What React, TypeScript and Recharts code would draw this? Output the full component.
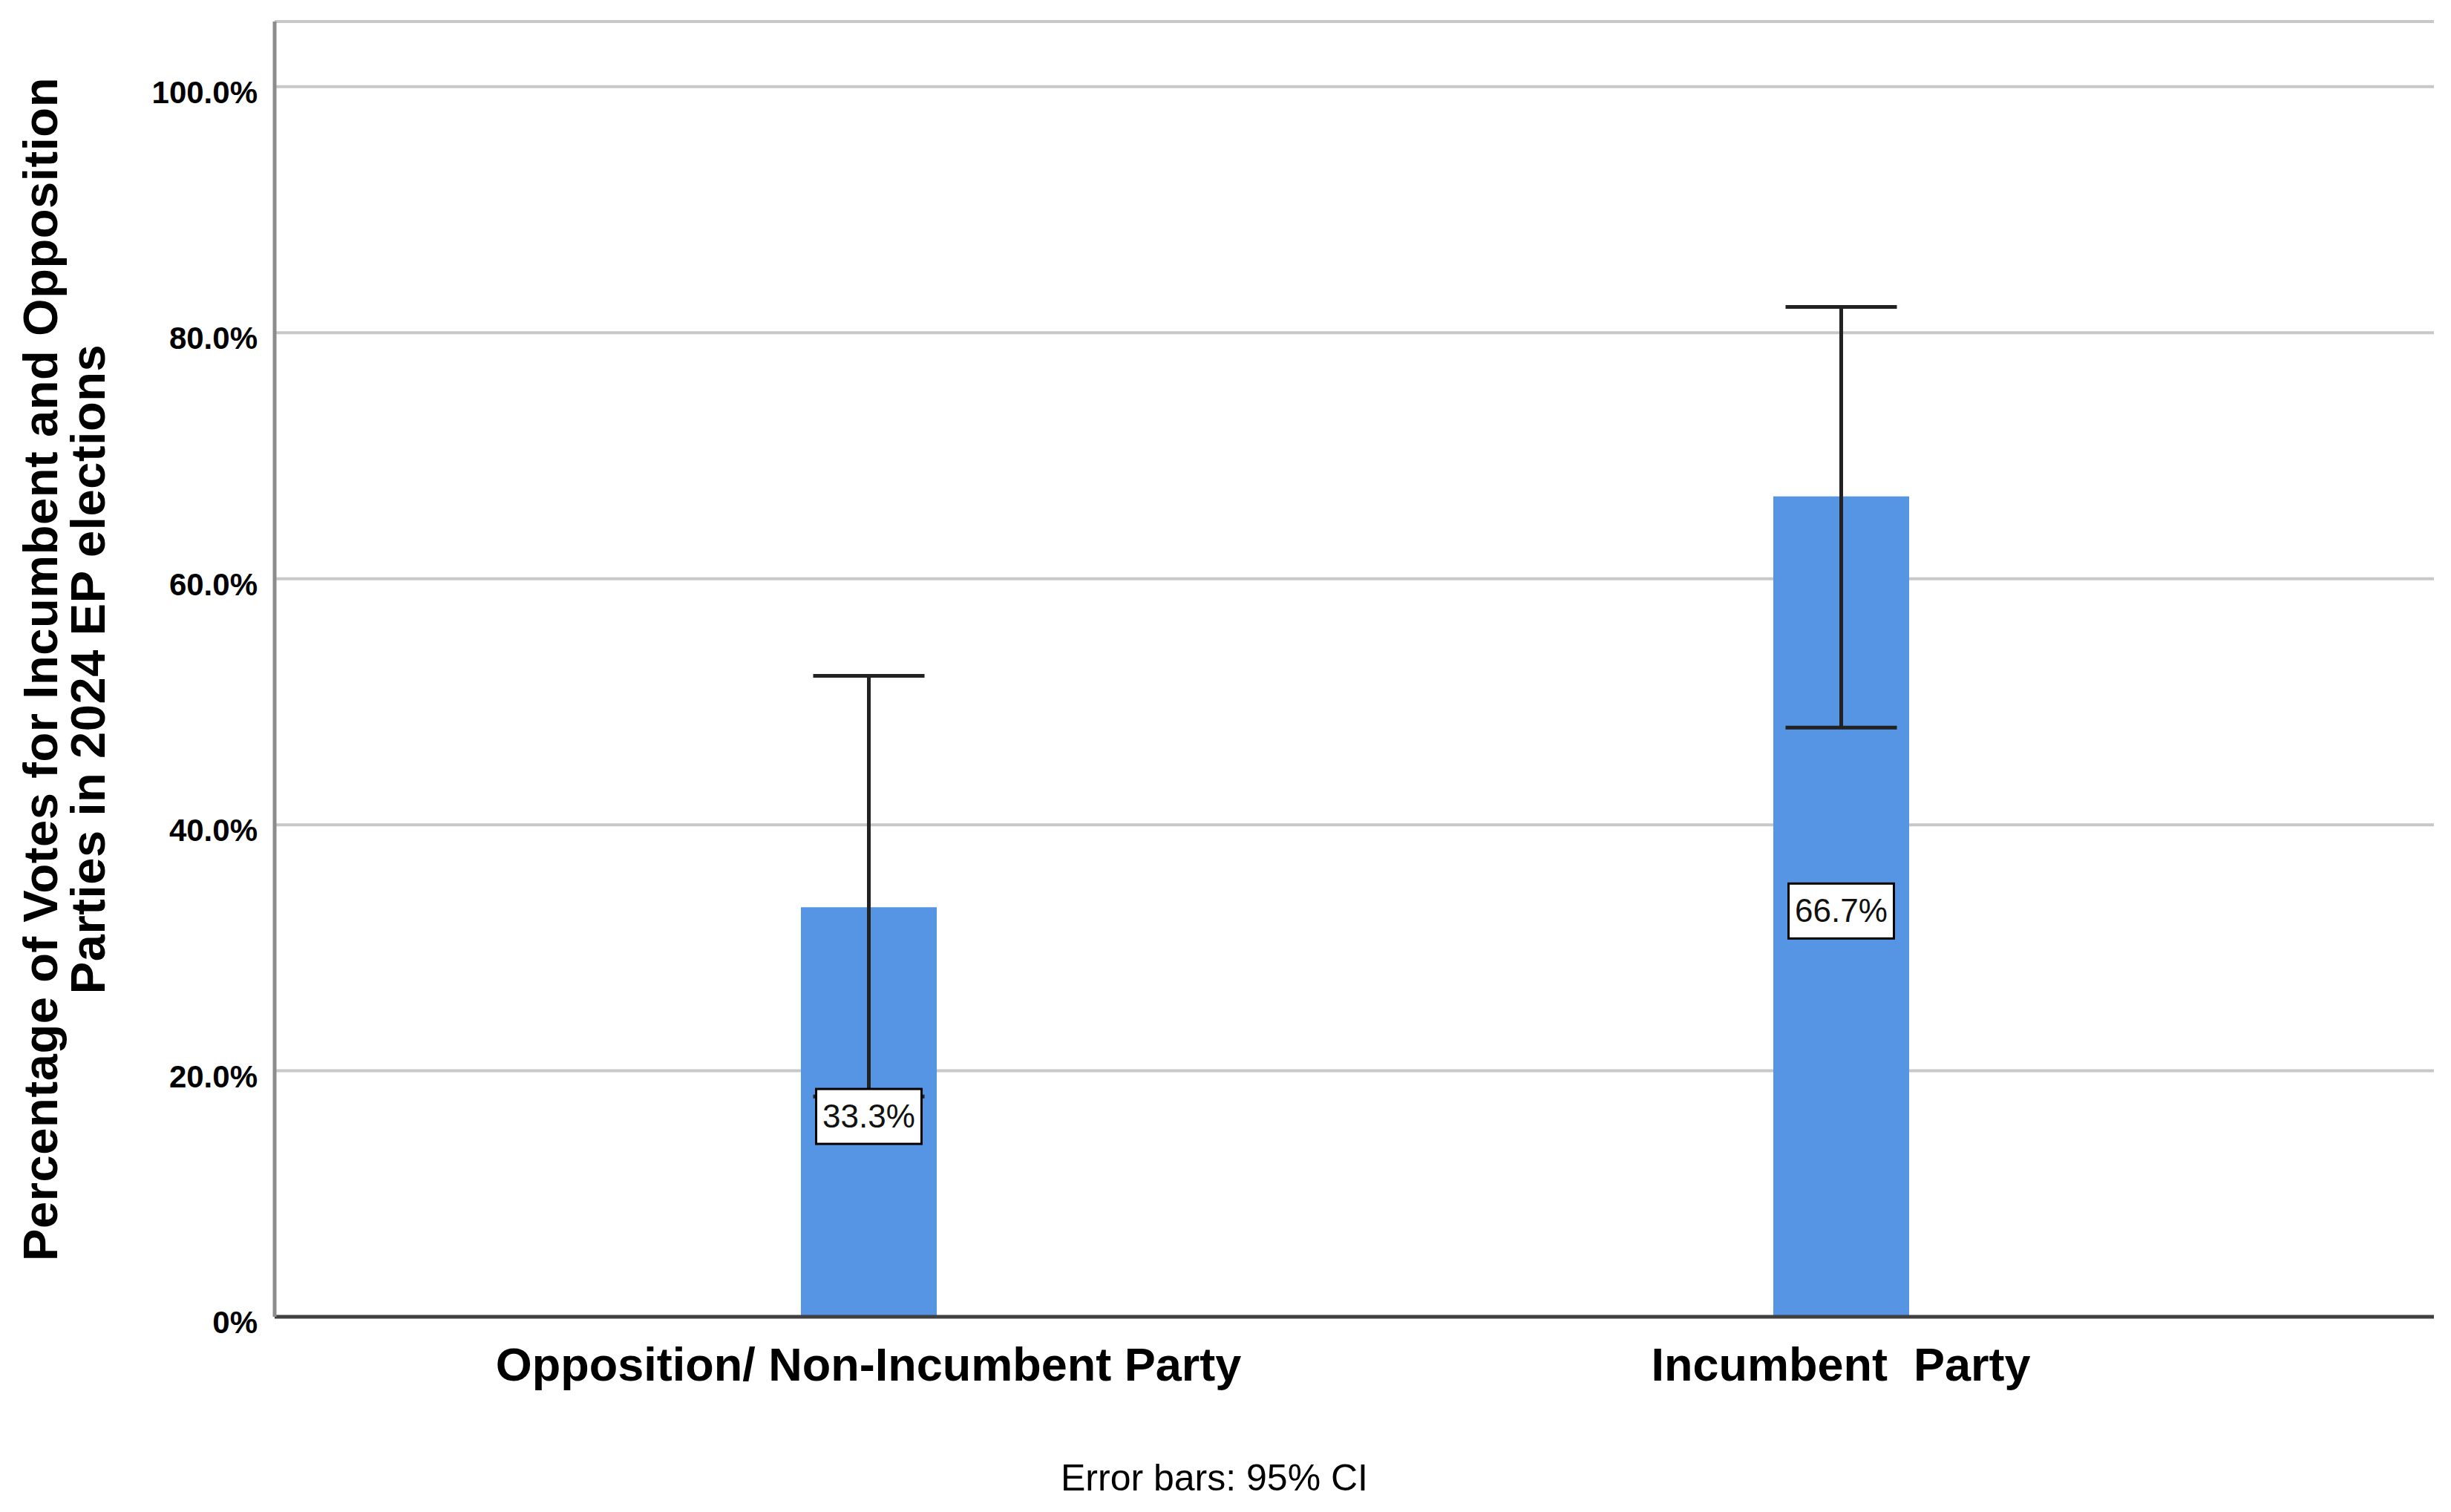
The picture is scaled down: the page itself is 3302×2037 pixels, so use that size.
import React from "react";
import { BarChart, Bar, XAxis, YAxis, CartesianGrid, ErrorBar, LabelList, Label } from "recharts";

const categories = ["Opposition/ Non-Incumbent Party", "Incumbent  Party"];
const percentValues = [33.3, 66.7];
const ciLower = [17.9, 47.9];
const ciUpper = [52.1, 82.1];
const yTicks = [0, 20, 40, 60, 80, 100];
const yTitleLines = ["Percentage of Votes for Incumbent and Opposition", "Parties in 2024 EP elections"];
const caption = "Error bars: 95% CI";

const data = categories.map((name, i) => ({
  name,
  value: percentValues[i],
  err: [percentValues[i] - ciLower[i], ciUpper[i] - percentValues[i]],
}));

const FONT = "'Liberation Sans', Arial, Helvetica, sans-serif";
const W = 3302;
const H = 2037;

const fmtY = (v: number) => (v === 0 ? "0%" : `${v.toFixed(1)}%`);

const YTick = (props: any) => {
  const { x, y, payload } = props;
  return (
    <text x={x} y={y + 22} textAnchor="end" fontFamily={FONT} fontWeight="bold" fontSize={42} fill="#000">
      {fmtY(payload.value)}
    </text>
  );
};

const XTick = (props: any) => {
  const { x, y, payload } = props;
  return (
    <text x={x} y={y + 86} textAnchor="middle" fontFamily={FONT} fontWeight="bold" fontSize={63} fill="#000" style={{ whiteSpace: "pre" }}>
      {payload.value}
    </text>
  );
};

const YTitle = (props: any) => {
  const vb = props.viewBox || {};
  const cy = vb.y + vb.height / 2;
  const xs = [77, 141];
  return (
    <g>
      {yTitleLines.map((line, i) => (
        <text
          key={i}
          x={xs[i]}
          y={cy}
          transform={`rotate(-90, ${xs[i]}, ${cy})`}
          textAnchor="middle"
          fontFamily={FONT}
          fontWeight="bold"
          fontSize={65}
          letterSpacing={0.6}
          fill="#000"
        >
          {line}
        </text>
      ))}
    </g>
  );
};

const Caption = () => (
  <text x={1636} y={2008} textAnchor="middle" fontFamily={FONT} fontSize={50} fill="#000">
    {caption}
  </text>
);

const ValueBox = (props: any) => {
  const { x, y, width, height, value } = props;
  const cx = x + width / 2;
  const cy = y + height / 2 + 6;
  const bw = 142;
  const bh = 74;
  return (
    <g>
      <rect x={cx - bw / 2} y={cy - bh / 2} width={bw} height={bh} fill="#fff" stroke="#000" strokeWidth={3} />
      <text x={cx} y={cy + 15} textAnchor="middle" fontFamily={FONT} fontSize={44} fill="#111">
        {`${value}%`}
      </text>
    </g>
  );
};

export default function App() {
  return (
    <div style={{ position: "absolute", left: 0, top: 0, width: W, height: H, background: "#fff" }}>
      <BarChart width={W} height={H} data={data} margin={{ top: 29, right: 23, left: 0, bottom: 0 }}>
        <CartesianGrid horizontal vertical={false} stroke="#c8c8c8" strokeWidth={4} />
        <XAxis
          dataKey="name"
          height={263}
          padding={{ left: 145, right: 144 }}
          axisLine={{ stroke: "#404040", strokeWidth: 5 }}
          tickLine={false}
          tickSize={0}
          tickMargin={0}
          tick={<XTick />}
          interval={0}
        >
          <Label content={<Caption />} />
        </XAxis>
        <YAxis
          width={370}
          domain={[0, 105.3]}
          ticks={yTicks}
          allowDataOverflow
          axisLine={{ stroke: "#8c8c8c", strokeWidth: 5 }}
          tickLine={false}
          tickSize={0}
          tickMargin={23}
          tick={<YTick />}
        >
          <Label content={<YTitle />} />
        </YAxis>
        <Bar dataKey="value" fill="#5595E3" barSize={183} isAnimationActive={false}>
          <ErrorBar dataKey="err" direction="y" width={75} stroke="#222" strokeWidth={5} isAnimationActive={false} />
          <LabelList dataKey="value" content={<ValueBox />} />
        </Bar>
      </BarChart>
    </div>
  );
}
